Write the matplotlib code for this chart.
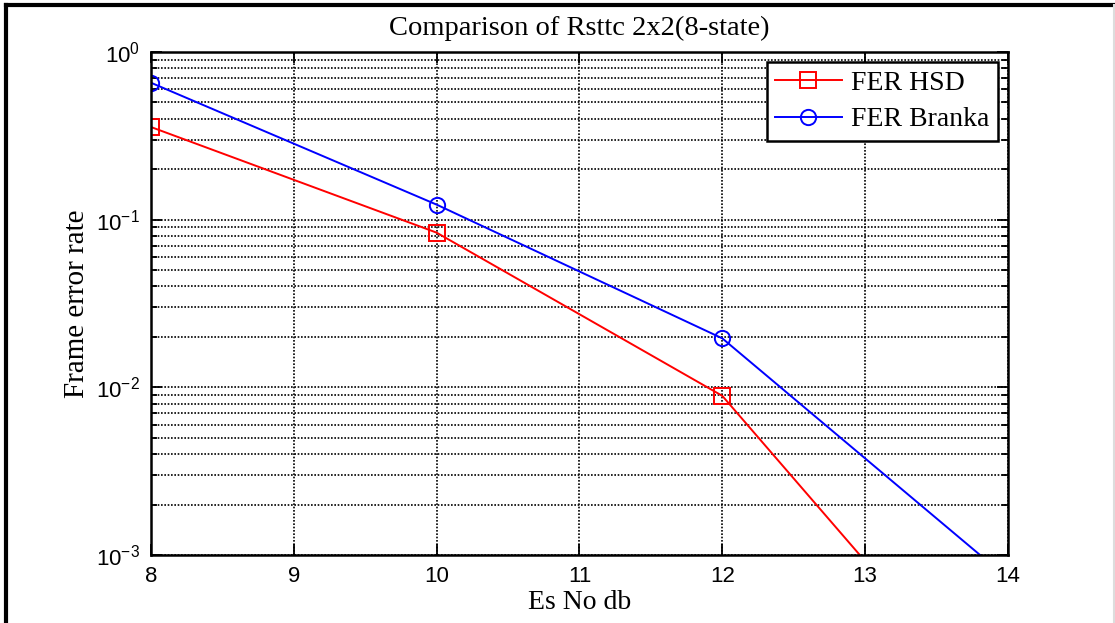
import matplotlib
matplotlib.use('Agg')
import matplotlib.pyplot as plt
from matplotlib.ticker import LogLocator, NullFormatter
from matplotlib.lines import Line2D

plt.rcParams['mathtext.fontset'] = 'custom'
plt.rcParams['mathtext.rm'] = 'Liberation Sans'
plt.rcParams['mathtext.it'] = 'Liberation Sans:italic'
plt.rcParams['axes.unicode_minus'] = False

# data
es_no = [8, 10, 12, 14]
fer_hsd = [0.357, 0.0837, 0.0089, 9.5e-5]
fer_branka = [0.656, 0.123, 0.0196, 7.25e-4]
xticks = [8, 9, 10, 11, 12, 13, 14]

fig = plt.figure(figsize=(11.15, 6.23), dpi=100)
ax = fig.add_axes([0.1354, 0.1091, 0.7686, 0.8074])

ax.semilogy(es_no, fer_hsd, color='red', marker='s', markersize=11, markerfacecolor='none',
            markeredgewidth=1.4, linewidth=1.4, label='FER HSD')
ax.semilogy(es_no, fer_branka, color='blue', marker='o', markersize=11, markerfacecolor='none',
            markeredgewidth=1.4, linewidth=1.4, label='FER Branka')

ax.set_xlim(8, 14)
ax.set_ylim(1e-3, 1e0)
ax.set_xticks(xticks)
ax.yaxis.set_minor_locator(LogLocator(base=10, subs=range(2, 10)))
ax.yaxis.set_minor_formatter(NullFormatter())

ax.grid(True, which='major', linestyle=(0, (1, 1)), color='black', linewidth=1.2)
ax.grid(True, which='minor', axis='y', linestyle=(0, (1, 1)), color='black', linewidth=1.2)
ax.tick_params(which='both', direction='in', top=True, right=True, labelsize=16,
               width=1.3, pad=8)
ax.tick_params(which='major', length=8)
ax.tick_params(which='minor', length=4)
for lab in ax.get_xticklabels() + ax.get_yticklabels():
    lab.set_fontfamily('Liberation Sans')
for s in ax.spines.values():
    s.set_linewidth(1.8)

serif = 'Liberation Serif'
ax.set_title('Comparison of Rsttc 2x2(8-state)', fontsize=20.5, family=serif, pad=12)
ax.set_xlabel('Es No db', fontsize=20, family=serif, labelpad=2)
ax.set_ylabel('Frame error rate', fontsize=21, family=serif)
ax.yaxis.set_label_coords(-0.071, 0.5)

leg = ax.legend(loc='upper right', prop={'family': serif, 'size': 20}, fancybox=False,
                framealpha=1, edgecolor='black', borderpad=0.3, handlelength=2.4,
                handletextpad=0.35, borderaxespad=0.36, labelspacing=0.4)
leg.get_frame().set_linewidth(1.8)

# outer figure border
fig.add_artist(Line2D([0.005, 0.005], [0, 0.992], transform=fig.transFigure, color='black', linewidth=3))
fig.add_artist(Line2D([0.005, 1.0], [0.992, 0.992], transform=fig.transFigure, color='black', linewidth=3))
fig.add_artist(Line2D([0.999, 0.999], [0, 0.992], transform=fig.transFigure, color='#dddddd', linewidth=1.5))

fig.savefig('out.png', dpi=100)
